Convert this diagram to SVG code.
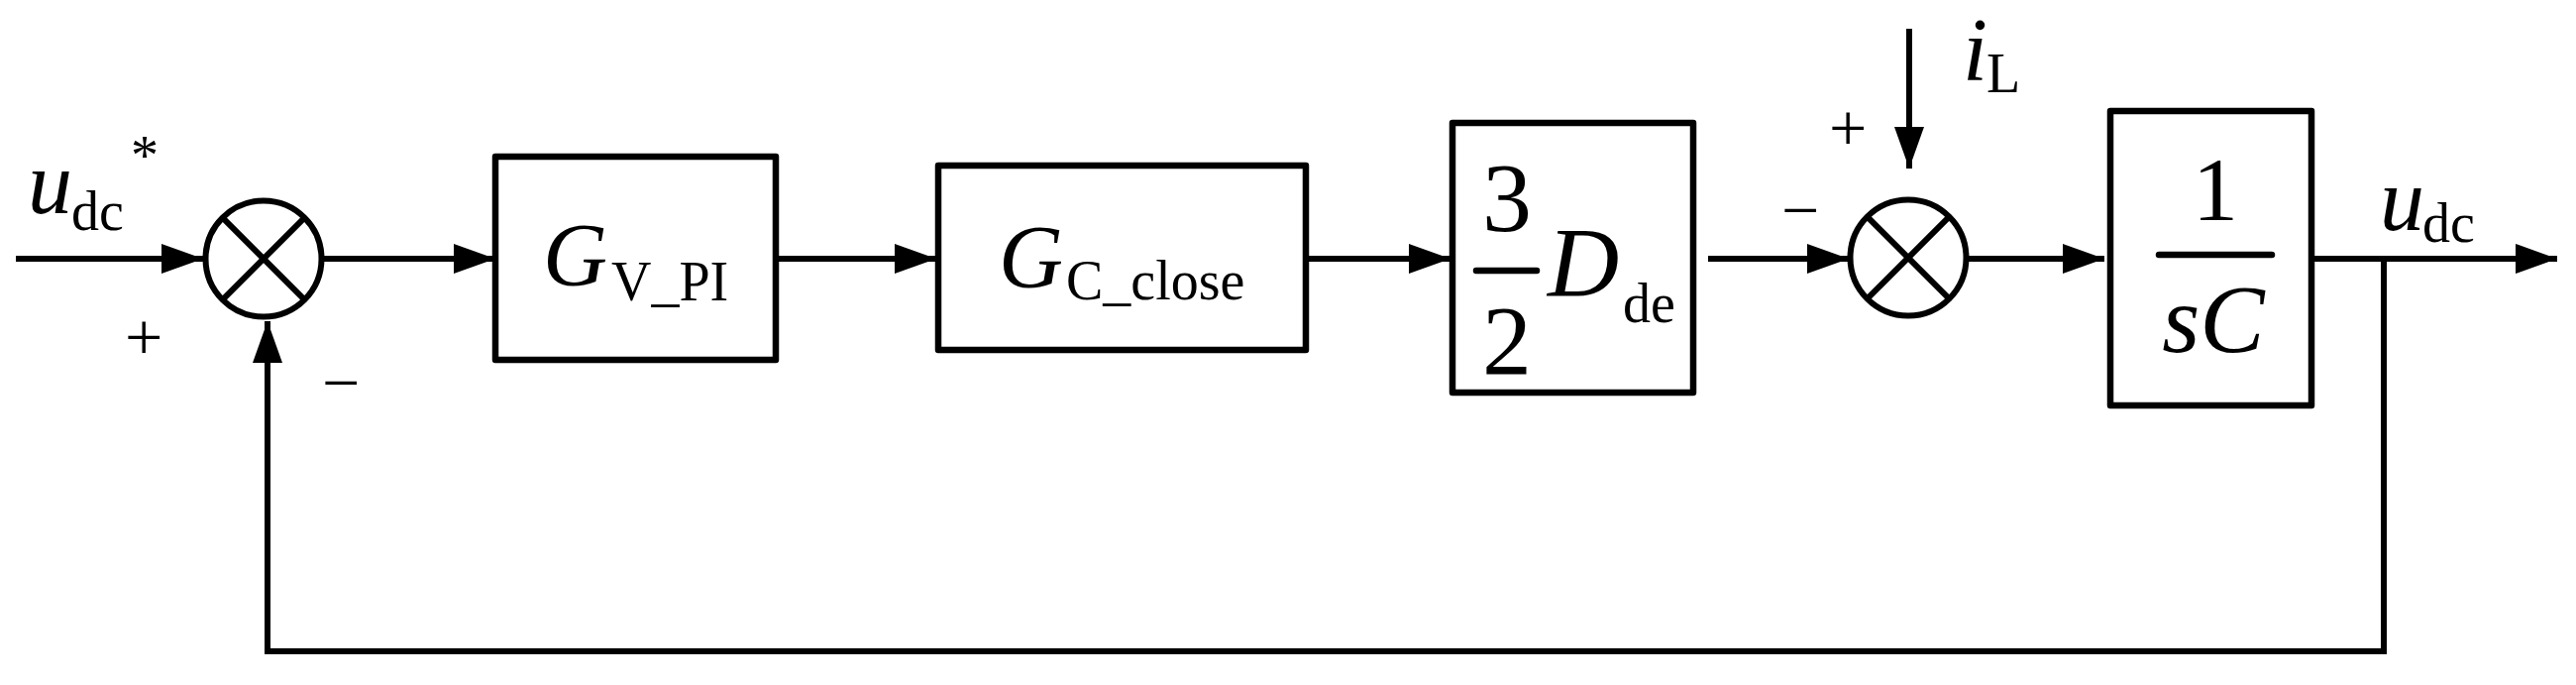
<svg xmlns="http://www.w3.org/2000/svg" width="2600" height="691" viewBox="0 0 2600 691">
<style>
  .ln { stroke:#000; stroke-width:6; fill:none; }
  .blk { stroke:#000; stroke-width:6.5; fill:#fff; stroke-linejoin:round; }
  .frac { stroke:#000; stroke-width:6.5; stroke-linecap:round; }
  text { font-family:"Liberation Serif","Times New Roman",serif; fill:#000; }
  .it { font-style:italic; }
  .main { font-size:90px; }
  .sub { font-size:56px; }
  .sign { font-size:68px; }
</style>
<defs>
  <marker id="ah" markerUnits="userSpaceOnUse" markerWidth="42" markerHeight="30" refX="42" refY="15" orient="auto">
    <path d="M0,0 L42,15 L0,30 z" fill="#000"/>
  </marker>
</defs>
<rect width="2600" height="691" fill="#fff"/>

<g id="connectors">
  <line class="ln" x1="16" y1="261" x2="205" y2="261" marker-end="url(#ah)"/>
  <line class="ln" x1="327" y1="261" x2="500" y2="261" marker-end="url(#ah)"/>
  <line class="ln" x1="783" y1="261" x2="945" y2="261" marker-end="url(#ah)"/>
  <line class="ln" x1="1318" y1="261" x2="1464" y2="261" marker-end="url(#ah)"/>
  <line class="ln" x1="1724" y1="261" x2="1866" y2="261" marker-end="url(#ah)"/>
  <line class="ln" x1="1986" y1="261" x2="2124" y2="261" marker-end="url(#ah)"/>
  <line class="ln" x1="2333" y1="261" x2="2581" y2="261" marker-end="url(#ah)"/>
  <line class="ln" x1="1927" y1="29" x2="1927" y2="170" marker-end="url(#ah)"/>
  <polyline class="ln" points="2406,261 2406,657 270,657 270,324" marker-end="url(#ah)"/>
</g>

<g id="sum1">
  <circle cx="266" cy="261" r="58.5" class="ln" fill="#fff"/>
  <line class="ln" x1="224.6" y1="219.6" x2="307.4" y2="302.4"/>
  <line class="ln" x1="307.4" y1="219.6" x2="224.6" y2="302.4"/>
</g>

<g id="sum2">
  <circle cx="1926" cy="260" r="58.5" class="ln" fill="#fff"/>
  <line class="ln" x1="1884.6" y1="218.6" x2="1967.4" y2="301.4"/>
  <line class="ln" x1="1967.4" y1="218.6" x2="1884.6" y2="301.4"/>
</g>

<g id="block_vpi">
  <rect class="blk" x="500" y="158" width="283" height="205"/>
  <text class="main it" x="548" y="288">G</text>
  <text class="sub" x="617" y="303">V_PI</text>
</g>

<g id="block_cclose">
  <rect class="blk" x="947" y="167" width="371" height="186"/>
  <text class="main it" x="1008" y="290">G</text>
  <text class="sub" x="1076" y="302">C_close</text>
</g>

<g id="block_dde">
  <rect class="blk" x="1466" y="124" width="243" height="272"/>
  <text x="1521" y="233" font-size="100" text-anchor="middle">3</text>
  <line class="frac" x1="1490" y1="273" x2="1551" y2="273"/>
  <text x="1521" y="377" font-size="100" text-anchor="middle">2</text>
  <text class="it" x="1562" y="298" font-size="100">D</text>
  <text class="sub" x="1638" y="325">de</text>
</g>

<g id="block_sc">
  <rect class="blk" x="2130" y="112" width="203" height="297"/>
  <text x="2236" y="222" font-size="92" text-anchor="middle">1</text>
  <line class="frac" x1="2179" y1="257" x2="2293" y2="257"/>
  <text class="it" x="2234" y="355" font-size="98" text-anchor="middle">sC</text>
</g>

<g id="labels">
  <text class="main it" x="28" y="215">u</text>
  <text class="sub" x="72" y="232">dc</text>
  <text class="sub" x="132" y="176">*</text>
  <text class="sign" x="126" y="363">+</text>
  <text class="sign" x="325" y="409">−</text>
  <text class="sign" x="1846" y="152">+</text>
  <text class="sign" x="1798" y="235">−</text>
  <text class="main it" x="1981" y="81">i</text>
  <text class="sub" x="2005" y="93">L</text>
  <text class="main it" x="2402" y="232">u</text>
  <text class="sub" x="2445" y="244">dc</text>
</g>
</svg>
